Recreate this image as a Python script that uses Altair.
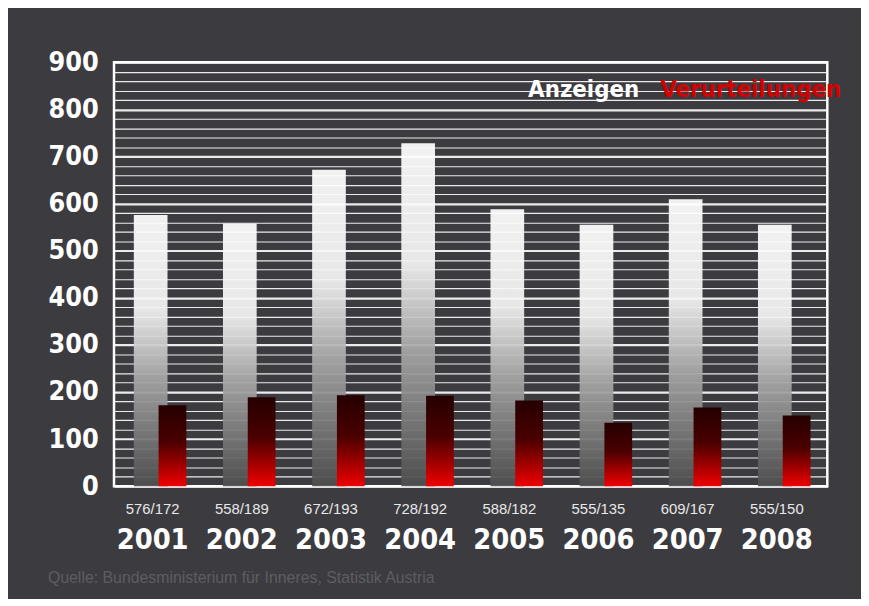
import altair as alt
import pandas as pd

years = ["2001", "2002", "2003", "2004", "2005", "2006", "2007", "2008"]
anzeigen = [576, 558, 672, 728, 588, 555, 609, 555]
verurteilungen = [172, 189, 193, 192, 182, 135, 167, 150]
legend_names = ["Anzeigen", "Verurteilungen"]
legend_colors = ["#ffffff", "#d40000"]
source_text = "Quelle: Bundesministerium für Inneres, Statistik Austria"

df = pd.DataFrame({
    "year": years,
    "anz": anzeigen,
    "ver": verurteilungen,
    "lab": [f"{a}/{v}" for a, v in zip(anzeigen, verurteilungen)],
})

W, H = 720, 428
COND = "DejaVu Sans Condensed"

white_grad = alt.LinearGradient(
    gradient="linear",
    stops=[
        alt.GradientStop(offset=0, color="#ffffff"),
        alt.GradientStop(offset=0.35, color="#f4f4f4"),
        alt.GradientStop(offset=0.6, color="#a8a8a8"),
        alt.GradientStop(offset=1, color="#4e4e4e"),
    ],
    x1=0, x2=0, y1=0, y2=1,
)
red_grad = alt.LinearGradient(
    gradient="linear",
    stops=[
        alt.GradientStop(offset=0, color="#250000"),
        alt.GradientStop(offset=0.45, color="#4a0000"),
        alt.GradientStop(offset=1, color="#f00000"),
    ],
    x1=0, x2=0, y1=0, y2=1,
)

xscale = alt.Scale(paddingInner=0, paddingOuter=0)
yscale = alt.Scale(domain=[0, 900], nice=False)

XAX = alt.Axis(labelFont=COND, labelFontWeight="bold", labelFontSize=29,
               labelColor="#ffffff", labelPadding=40, labelAngle=0,
               domain=False, ticks=False, labelOffset=-6)
YAX = alt.Axis(values=list(range(0, 901, 20)),
               labelExpr="datum.value % 100 === 0 ? datum.label : ''",
               labelOverlap=False,
               labelFont=COND, labelFontWeight="bold", labelFontSize=27,
               labelColor="#ffffff", labelPadding=16,
               domain=False, ticks=False,
               grid=True, gridColor="#ffffff",
               gridWidth={"condition": {"test": "datum.value % 100 === 0", "value": 2.2}, "value": 1.1},
               gridOpacity=0.9)

def X():
    return alt.X("year:N", scale=xscale, sort=years, title=None, axis=XAX)

def Y(field):
    return alt.Y(field, scale=yscale, title=None, axis=YAX)

base = alt.Chart(df)

bars_a = base.mark_bar(width=34, xOffset=-8, color=white_grad, opacity=0.93).encode(
    x=X(), y=Y("anz:Q"),
)
bars_v = base.mark_bar(width=28, xOffset=14, color=red_grad).encode(
    x=X(), y=Y("ver:Q"),
)
labels = base.mark_text(font="Liberation Sans", fontSize=15, color="#e8e8e8",
                        baseline="middle", dx=-6).encode(
    x=X(),
    y=alt.value(H + 23),
    text="lab:N",
)
leg_a = alt.Chart(pd.DataFrame({"name": [legend_names[0]], "y": [840]})).mark_text(
    font=COND, fontWeight="bold", fontSize=24, align="left", baseline="middle",
    color=legend_colors[0]).encode(
    x=alt.value(418),
    y=Y("y:Q"),
    text="name:N",
)
leg_v = alt.Chart(pd.DataFrame({"name": [legend_names[1]], "y": [840]})).mark_text(
    font=COND, fontWeight="bold", fontSize=24, align="right", baseline="middle",
    color=legend_colors[1]).encode(
    x=alt.value(W + 14),
    y=Y("y:Q"),
    text="name:N",
)

chart = alt.layer(bars_a, bars_v, labels, leg_a, leg_v).properties(
    width=W, height=H,
    background="#3c3b40",
    padding={"left": 40, "top": 38, "right": 20, "bottom": 10},
    title=alt.TitleParams(source_text, orient="bottom", anchor="start",
                          color="#5e5d62", fontSize=16, font="Liberation Sans",
                          fontWeight="normal", offset=16),
).configure_view(stroke="#ffffff", strokeWidth=2.5)

chart.save("out.html", embed_options={"renderer": "svg", "actions": False})
